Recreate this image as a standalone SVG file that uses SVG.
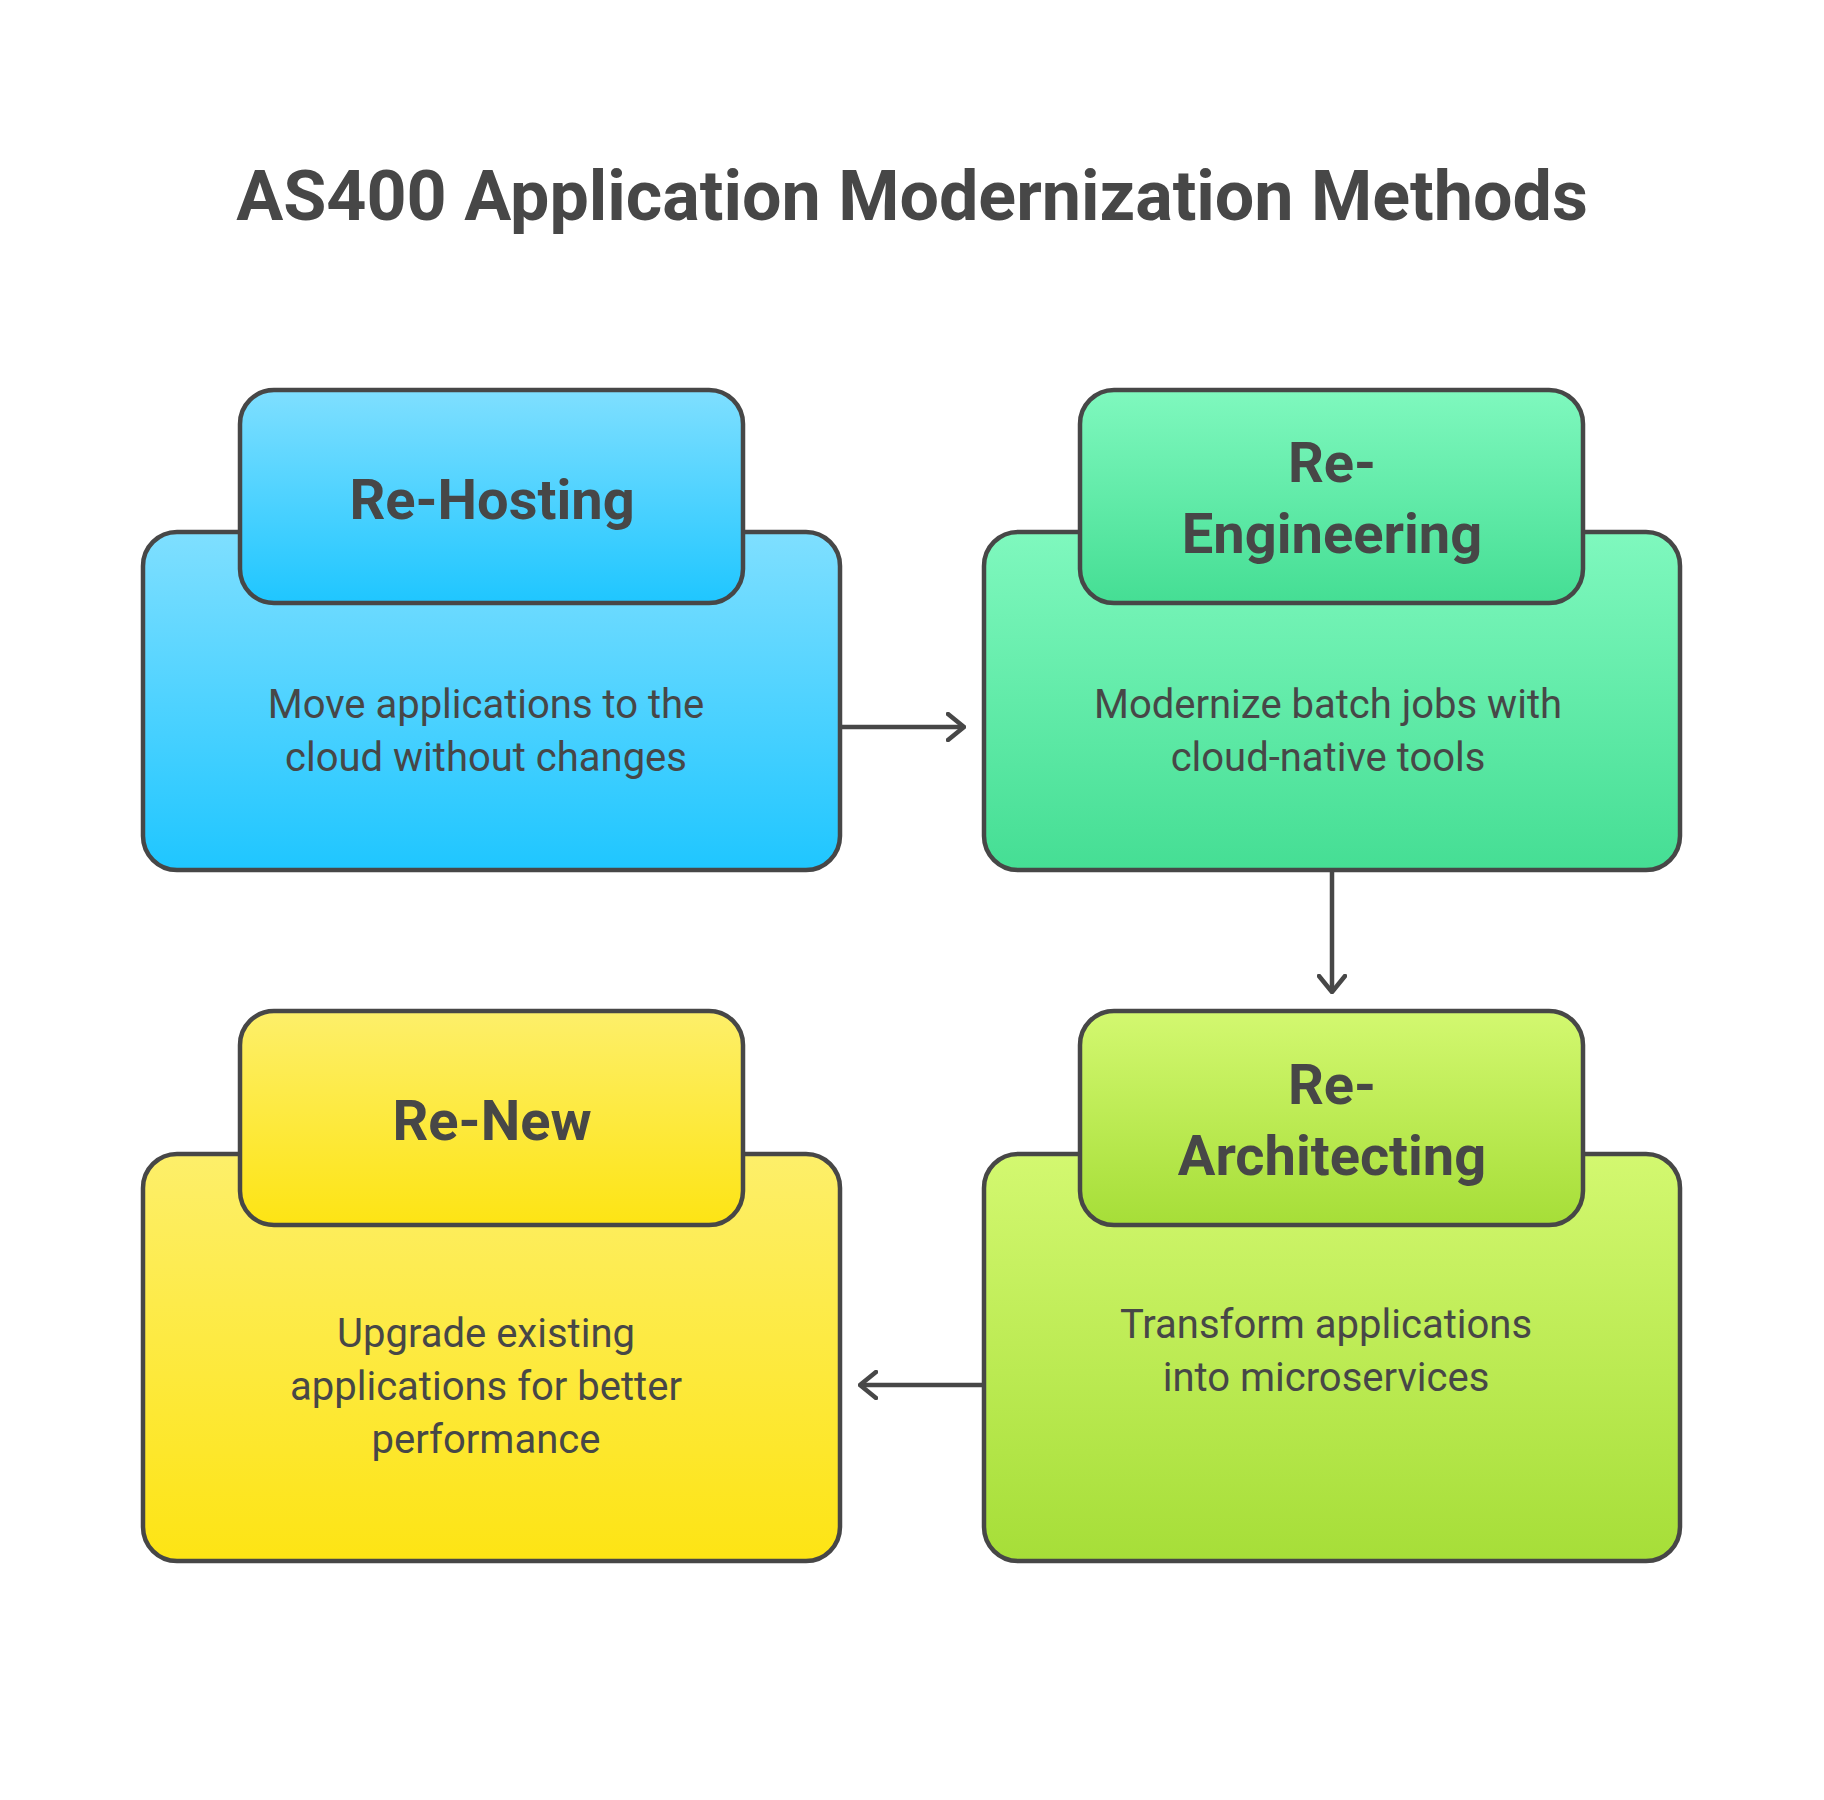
<svg xmlns="http://www.w3.org/2000/svg" width="1824" height="1800" viewBox="0 0 1824 1800">
<defs>
<linearGradient id="gb" x1="0" y1="0" x2="0" y2="1"><stop offset="0" stop-color="#7fdfff"/><stop offset="1" stop-color="#1fc6ff"/></linearGradient>
<linearGradient id="gg" x1="0" y1="0" x2="0" y2="1"><stop offset="0" stop-color="#7ff8be"/><stop offset="1" stop-color="#45de94"/></linearGradient>
<linearGradient id="gl" x1="0" y1="0" x2="0" y2="1"><stop offset="0" stop-color="#d3f870"/><stop offset="1" stop-color="#a6de38"/></linearGradient>
<linearGradient id="gy" x1="0" y1="0" x2="0" y2="1"><stop offset="0" stop-color="#fdef6a"/><stop offset="1" stop-color="#fde414"/></linearGradient>
<marker id="ar" viewBox="0 0 20 30" refX="18" refY="15" markerWidth="20" markerHeight="30" markerUnits="userSpaceOnUse" orient="auto"><path d="M2 2 L18 15 L2 28" fill="none" stroke="#474747" stroke-width="4.5" stroke-linecap="round" stroke-linejoin="round"/></marker>
</defs>
<style>
.b{stroke:#474747;stroke-width:4.5}
.h{font-family:Roboto,"Liberation Sans",sans-serif;font-weight:bold;font-size:56px;fill:#474747;text-anchor:middle}
.t{font-family:Roboto,"Liberation Sans",sans-serif;font-size:40px;fill:#474747;text-anchor:middle}
.c{fill:none;stroke:#474747;stroke-width:4.5}
</style>
<rect width="1824" height="1800" fill="#fff"/>
<text x="912" y="220" font-family="Roboto,'Liberation Sans',sans-serif" font-weight="bold" font-size="70" fill="#474747" text-anchor="middle">AS400 Application Modernization Methods</text>
<g id="rehosting">
<rect class="b" x="143" y="532" width="697" height="338" rx="34" fill="url(#gb)"/>
<rect class="b" x="240" y="390" width="503" height="213" rx="34" fill="url(#gb)"/>
<text class="h" x="492" y="519">Re-Hosting</text>
<text class="t" x="486" y="718">Move applications to the</text>
<text class="t" x="486" y="771">cloud without changes</text>
</g>
<g id="reengineering">
<rect class="b" x="984" y="532" width="696" height="338" rx="34" fill="url(#gg)"/>
<rect class="b" x="1080" y="390" width="503" height="213" rx="34" fill="url(#gg)"/>
<text class="h" x="1332" y="482">Re-</text>
<text class="h" x="1332" y="553">Engineering</text>
<text class="t" x="1328" y="718">Modernize batch jobs with</text>
<text class="t" x="1328" y="771">cloud-native tools</text>
</g>
<g id="rearchitecting">
<rect class="b" x="984" y="1154" width="696" height="407" rx="34" fill="url(#gl)"/>
<rect class="b" x="1080" y="1011" width="503" height="214" rx="34" fill="url(#gl)"/>
<text class="h" x="1332" y="1104">Re-</text>
<text class="h" x="1332" y="1175">Architecting</text>
<text class="t" x="1326" y="1338">Transform applications</text>
<text class="t" x="1326" y="1391">into microservices</text>
</g>
<g id="renew">
<rect class="b" x="143" y="1154" width="697" height="407" rx="34" fill="url(#gy)"/>
<rect class="b" x="240" y="1011" width="503" height="214" rx="34" fill="url(#gy)"/>
<text class="h" x="492" y="1140">Re-New</text>
<text class="t" x="486" y="1347">Upgrade existing</text>
<text class="t" x="486" y="1400">applications for better</text>
<text class="t" x="486" y="1453">performance</text>
</g>
<g id="connectors">
<path class="c" d="M840 727 H964" marker-end="url(#ar)"/>
<path class="c" d="M1332 870 V992" marker-end="url(#ar)"/>
<path class="c" d="M984 1385 H860" marker-end="url(#ar)"/>
</g>
</svg>
